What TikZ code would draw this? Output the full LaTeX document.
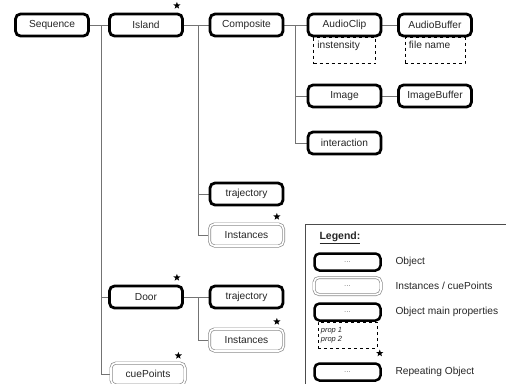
\documentclass[tikz,border=0pt]{standalone}
\usepackage{fontspec}
\setmainfont{Liberation Sans}
\usetikzlibrary{shapes.geometric,backgrounds}
\begin{document}
\begin{tikzpicture}
  [x=1pt,y=-1pt,every node/.style={font=\fontsize{10.2}{12}\selectfont,text=black!85},
   obj/.style={draw,line width=2.8pt,rounded corners=5pt,fill=white,inner sep=0pt,minimum width=73pt,minimum height=22pt},
   inst/.style={draw=black!45,double=white,double distance=1.6pt,line width=0.7pt,rounded corners=5pt,fill=white,inner sep=0pt,minimum width=74pt,minimum height=22pt},
   legobj/.style={obj,line width=2.5pt,minimum width=66pt,minimum height=17pt,font=\fontsize{8}{8}\selectfont,text=black!50},
   leginst/.style={inst,minimum width=67pt,minimum height=17pt,font=\fontsize{8}{8}\selectfont,text=black!50},
   prop/.style={draw,dashed,line width=0.6pt,inner sep=0pt,anchor=north,minimum height=26pt},
   conn/.style={draw=black!55,line width=0.8pt},
   starmark/.style={star,star points=5,star point ratio=2.4,fill=black,draw=none,inner sep=0pt,minimum size=7.5pt}]
  \useasboundingbox (0,0) rectangle (506,383);
  \node[obj] (seq) at (52,25) {Sequence};
  \node[obj] (isl) at (146,25) {Island};
  \node[obj] (comp) at (246.5,25) {Composite};
  \node[obj] (clip) at (344.5,25) {AudioClip};
  \node[obj] (abuf) at (435,25) {AudioBuffer};
  \node[obj] (img) at (344.5,96) {Image};
  \node[obj] (ibuf) at (435,96) {ImageBuffer};
  \node[obj] (inter) at (344.5,143) {interaction};
  \node[obj] (traj) at (246.5,194) {trajectory};
  \node[inst] (inst) at (246.5,235) {Instances};
  \node[obj] (door) at (146,297) {Door};
  \node[obj] (traj2) at (246.5,297) {trajectory};
  \node[inst] (inst2) at (246.5,340) {Instances};
  \node[inst] (cue) at (148,374) {cuePoints};

  \begin{scope}[on background layer]
    \node[prop,minimum width=62pt,label={[anchor=north west,inner sep=4pt]north west:instensity}] (clipprop) at (clip.south) {};
    \node[prop,minimum width=60pt,label={[anchor=north west,inner sep=4pt]north west:file name}] (abufprop) at (abuf.south) {};
    \foreach \from/\to in {seq/isl,isl/comp,comp/clip,clip/abuf,img/ibuf,door/traj2}
      \draw[conn] (\from) -- (\to);
    \foreach \to in {door,cue}
      \draw[conn] (seq.east) -- ++(11,0) |- (\to);
    \foreach \to in {traj,inst}
      \draw[conn] (isl.east) -- ++(14,0) |- (\to);
    \foreach \to in {img,inter}
      \draw[conn] (comp.east) -- ++(11,0) |- (\to);
    \draw[conn] (door.east) -- ++(14,0) |- (inst2);
  \end{scope}

  \foreach \n in {isl,inst,door,inst2,cue}
    \node[starmark] at ([shift={(-7,-7)}]\n.north east) {};

  \draw[black!70,line width=0.8pt] (305,224) rectangle (540,420);
  \node[anchor=west,font=\fontsize{10.5}{12}\selectfont\bfseries] (legtitle) at (316,238) {\underline{Legend:}};
  \node[legobj] (lobj) at (347.5,262) {...};
  \node[leginst] (linst) at (347.5,286) {...};
  \node[legobj] (lprop) at (347.5,312) {...};
  \node[legobj] (lrep) at (347.5,372) {...};
  \begin{scope}[on background layer]
    \node[prop,minimum width=59pt,minimum height=26pt,
      label={[anchor=north west,inner xsep=3pt,inner ysep=5pt,font=\fontsize{7.5}{9.5}\selectfont\itshape,align=left]north west:prop 1\\prop 2}] (lpropbox) at (lprop.south) {};
  \end{scope}
  \node[starmark] at ([shift={(-2,-9)}]lrep.north east) {};
  \node[anchor=west] (tobj) at (392,262) {Object};
  \node[anchor=west] (tinst) at (392,286) {Instances / cuePoints};
  \node[anchor=west] (tprop) at (392,312) {Object main properties};
  \node[anchor=west] (trep) at (392,372) {Repeating Object};
\end{tikzpicture}
\end{document}
